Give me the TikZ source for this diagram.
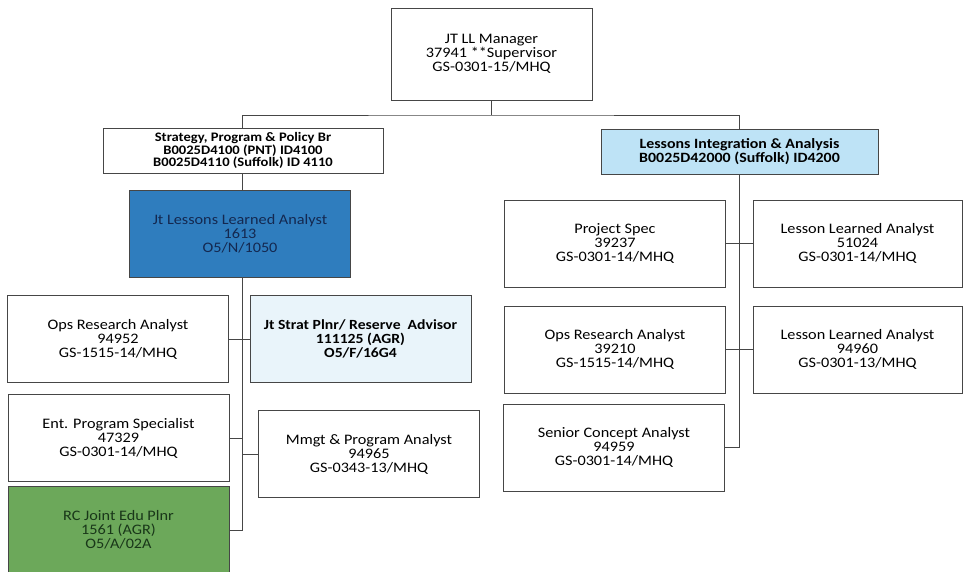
\documentclass[tikz,border=0pt]{standalone}
\usepackage{fontspec}
\setmainfont{Carlito}[FakeStretch=1.12]
\usepackage{tikz}
\usetikzlibrary{positioning, calc}
\definecolor{orgline}{RGB}{70, 70, 70}
\definecolor{analystblue}{RGB}{47, 125, 190}
\definecolor{analysttext}{RGB}{20, 40, 80}
\definecolor{headerblue}{RGB}{190, 227, 246}
\definecolor{paleblue}{RGB}{233, 244, 250}
\definecolor{edugreen}{RGB}{108, 168, 90}
\definecolor{edutext}{RGB}{25, 55, 25}

\begin{document}
\begin{tikzpicture}[x=1pt, y=-1pt,
    position/.style={draw=orgline, line width=0.8pt, fill=white, align=center,
        minimum width=221pt, minimum height=87pt, inner sep=2pt,
        font=\fontsize{14.5}{14}\selectfont},
    branch/.style={draw=orgline, line width=0.8pt, fill=white, align=center,
        minimum height=45pt, inner sep=1pt,
        font=\fontsize{13}{12.6}\selectfont\bfseries},
    link/.style={draw=orgline, line width=0.7pt}]
  \useasboundingbox (0,0) rectangle (964,571);

  % top of the chart
  \node[position, minimum width=201pt, minimum height=92pt] (mgr) at (491.5,54)
    {JT LL Manager\\37941 **Supervisor\\GS-0301-15/MHQ};
  \node[branch, minimum width=280pt] (spp) at (243,150.5)
    {Strategy, Program \& Policy Br\\B0025D4100 (PNT) ID4100\\B0025D4110 (Suffolk) ID 4110};
  \node[branch, minimum width=277pt, fill=headerblue,
        font=\fontsize{14.2}{13.4}\selectfont\bfseries] (lia) at (739.5,151.5)
    {Lessons Integration \& Analysis\\B0025D42000 (Suffolk) ID4200};

  % left branch
  \node[position, fill=analystblue, text=analysttext] (jlla) at (240,233.5)
    {Jt Lessons Learned Analyst\\1613\\O5/N/1050};
  \node[position] (ora) at (118,339)
    {Ops Research Analyst\\94952\\GS-1515-14/MHQ};
  \node[position, fill=paleblue, font=\fontsize{14}{14}\selectfont\bfseries] (jsp) at (360.5,339)
    {Jt Strat Plnr/ Reserve~ Advisor\\111125 (AGR)\\O5/F/16G4};
  \node[position] (eps) at (118.5,438)
    {Ent. Program Specialist\\47329\\GS-0301-14/MHQ};
  \node[position] (mpa) at (369,454)
    {Mmgt \& Program Analyst\\94965\\GS-0343-13/MHQ};
  \node[position, fill=edugreen, text=edutext] (rcj) at (118.5,530)
    {RC Joint Edu Plnr\\1561 (AGR)\\O5/A/02A};

  % right branch
  \node[position] (ps) at (615,243.5)
    {Project Spec\\39237\\GS-0301-14/MHQ};
  \node[position] (ora2) at (615,349.5)
    {Ops Research Analyst\\39210\\GS-1515-14/MHQ};
  \node[position] (sca) at (614,447.5)
    {Senior Concept Analyst\\94959\\GS-0301-14/MHQ};
  \node[position, minimum width=209pt] (lla1) at (857.5,243.5)
    {Lesson Learned Analyst\\51024\\GS-0301-14/MHQ};
  \node[position, minimum width=209pt] (lla2) at (857.5,349.5)
    {Lesson Learned Analyst\\94960\\GS-0301-13/MHQ};

  % connectors
  \coordinate (bus) at (491.5,115);
  \coordinate (lspine) at (242,277);
  \draw[link] (mgr.south) -- (bus);
  \draw[link] (spp.north -| lspine) |- (bus) -| (lia.north);
  \draw[link] (spp.south -| lspine) -- (jlla.north -| lspine);
  \draw[link] (lspine) |- (rcj.east);
  \draw[link] (ora.east) -- (jsp.west);
  \draw[link] (eps.east) -- (eps.east -| lspine);
  \draw[link] (mpa.west) -- (mpa.west -| lspine);
  \draw[link] (lia.south) |- (sca.east);
  \draw[link] (ps.east) -- (lla1.west);
  \draw[link] (ora2.east) -- (lla2.west);
\end{tikzpicture}
\end{document}
